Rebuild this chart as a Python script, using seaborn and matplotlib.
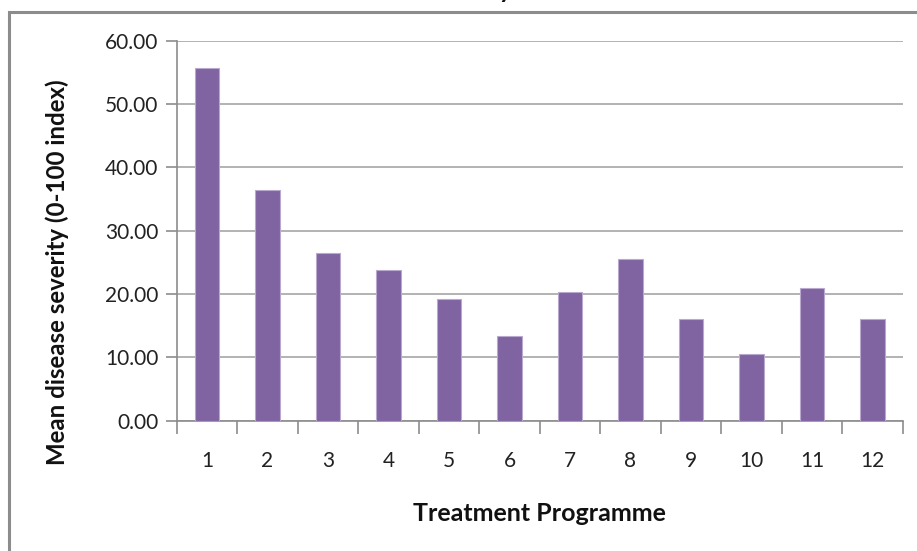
import matplotlib
matplotlib.use("Agg")
import matplotlib.pyplot as plt
from matplotlib.patches import Rectangle
from matplotlib.ticker import FixedLocator, FormatStrFormatter
import seaborn as sns
import pandas as pd

# Mean disease severity per treatment programme
programmes = ["1", "2", "3", "4", "5", "6", "7", "8", "9", "10", "11", "12"]
severity = [55.7, 36.4, 26.4, 23.8, 19.2, 13.4, 20.3, 25.5, 16.1, 10.5, 21.0, 16.1]
y_ticks = [0, 10, 20, 30, 40, 50, 60]

sns.set_theme(style="white")
plt.rcParams["font.family"] = ["Lato", "DejaVu Sans"]

df = pd.DataFrame({"programme": programmes, "severity": severity})

fig = plt.figure(figsize=(9.17, 5.51), dpi=100)
ax = fig.add_axes([0.1927, 0.2367, 0.9844 - 0.1927, 0.9263 - 0.2367])

sns.barplot(data=df, x="programme", y="severity", color="#8064A2",
            saturation=1, width=0.4, edgecolor="#B9A9CF", linewidth=0.8,
            ax=ax, zorder=3)

ax.set_xlim(-0.5, len(programmes) - 0.5)
ax.set_ylim(0, 60)
ax.set_yticks(y_ticks)
ax.yaxis.set_major_formatter(FormatStrFormatter("%.2f"))

# horizontal gridlines
ax.yaxis.grid(True, color="#A6A6A6", linewidth=1.2, zorder=0)
ax.xaxis.grid(False)

# category labels centred, tick marks between categories
ax.xaxis.set_minor_locator(FixedLocator([i - 0.5 for i in range(len(programmes) + 1)]))
ax.tick_params(axis="x", which="major", length=0, pad=22, labelsize=15, colors="#222222")
ax.tick_params(axis="x", which="minor", length=9, width=1.2, color="#8C8C8C", bottom=True)
ax.tick_params(axis="y", which="major", length=8, width=1.2, color="#8C8C8C",
               left=True, labelsize=15, labelcolor="#222222", pad=5)

for side in ("top", "right"):
    ax.spines[side].set_visible(False)
for side in ("left", "bottom"):
    ax.spines[side].set_color("#8C8C8C")
    ax.spines[side].set_linewidth(1.2)

ax.set_xlabel("Treatment Programme", fontsize=18, fontweight="bold", labelpad=22, color="#111111")
ax.set_ylabel("Mean disease severity (0-100 index)", fontsize=17.3, fontweight="bold",
              color="#111111")
ax.yaxis.set_label_coords(-0.148, 0.39)

# chart-area border
fig.patches.append(Rectangle((9 / 917, -0.05), 1.2, 1 - 12 / 551 + 0.05,
                             transform=fig.transFigure, fill=False,
                             edgecolor="#8C8C8C", linewidth=2.2))

# chart title sitting above the frame
fig.text(512 / 917, 1 + 1.5 / 551, "Disease severity", ha="right", va="baseline",
         fontsize=18, fontweight="bold", color="#111111")

fig.savefig("out.png", dpi=100)
